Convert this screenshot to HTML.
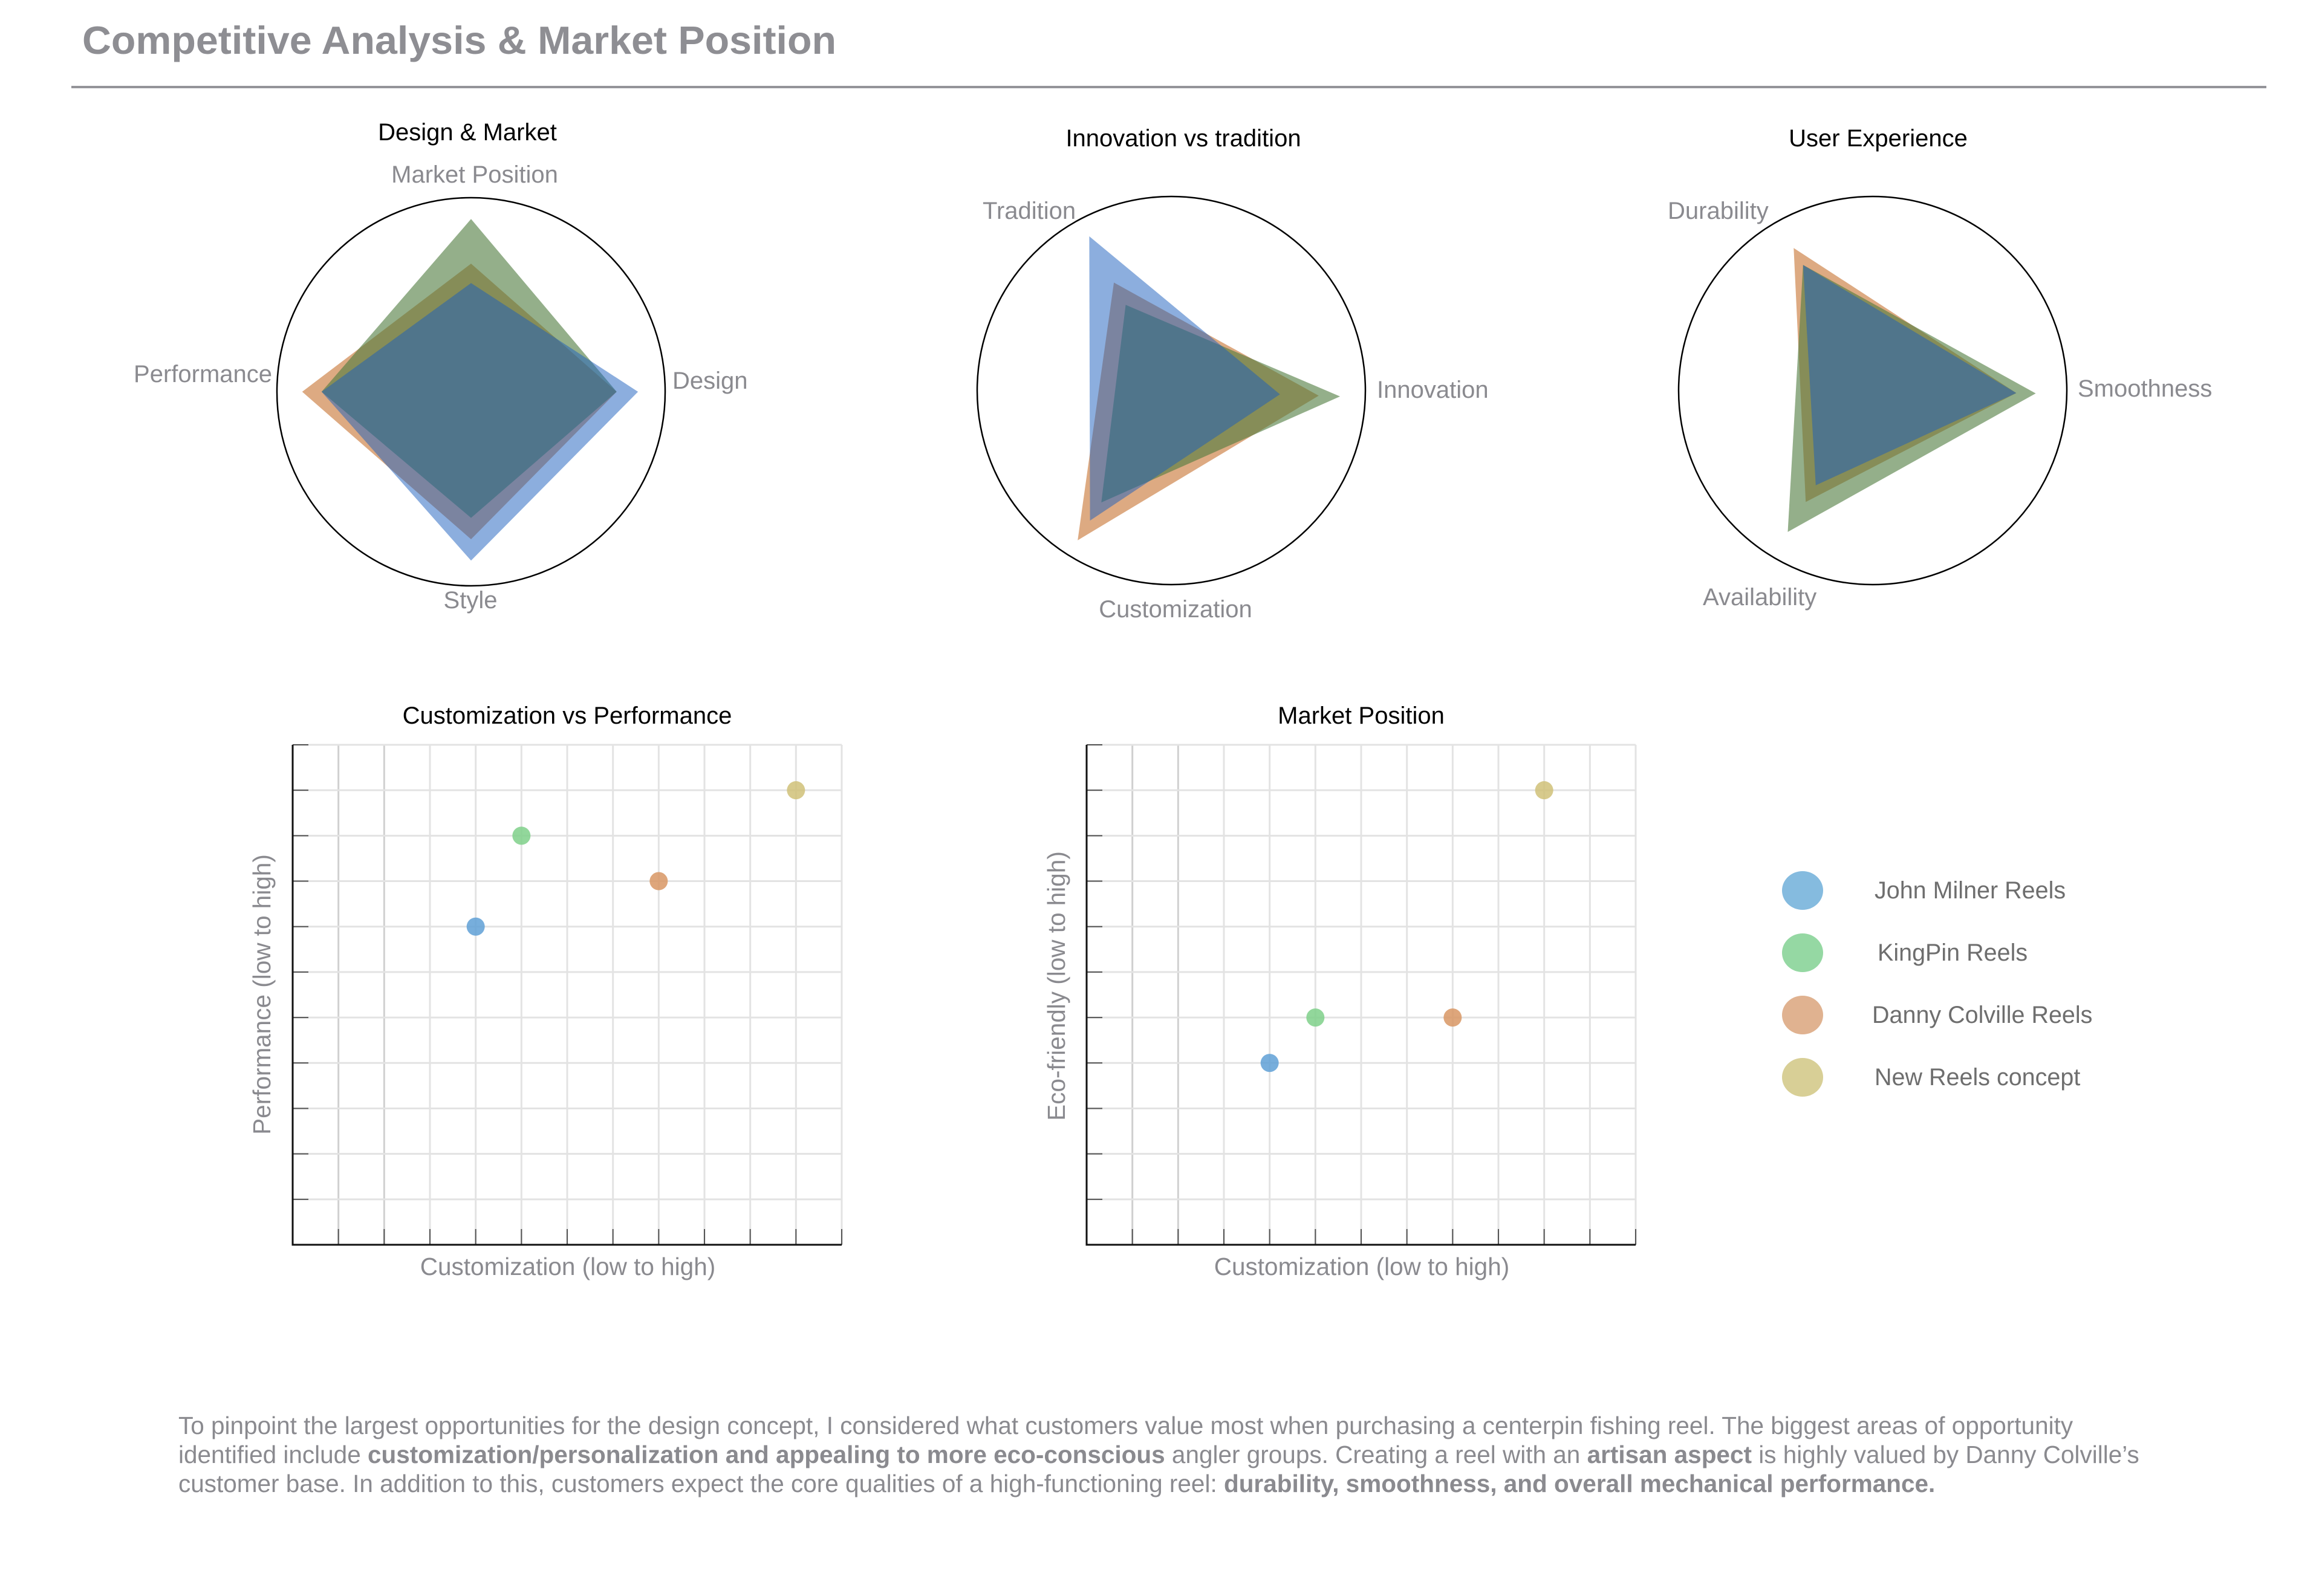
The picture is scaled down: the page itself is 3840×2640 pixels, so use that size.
<!DOCTYPE html>
<html><head><meta charset="utf-8"><style>
html,body{margin:0;padding:0;background:#fff;}
svg{display:block;font-family:"Liberation Sans",Arial,sans-serif;}
</style></head><body>
<svg id="root" width="3840" height="2640" viewBox="0 0 3840 2640" xmlns="http://www.w3.org/2000/svg">
<text x="136" y="89" font-size="65" font-weight="bold" fill="#8e8e93" textLength="1247" lengthAdjust="spacingAndGlyphs">Competitive Analysis &amp; Market Position</text>
<rect x="118" y="142" width="3630" height="4" fill="#949499"/>
<g id="radars"></g>
<g id="scatters"></g>
<g id="legend"></g>
<g font-size="40.5" fill="#8a8a8f">
<text x="295" y="2372">To pinpoint the largest opportunities for the design concept, I considered what customers value most when purchasing a centerpin fishing reel. The biggest areas of opportunity</text>
<text x="295" y="2420">identified include <tspan font-weight="bold">customization/personalization and appealing to more eco-conscious</tspan> angler groups. Creating a reel with an <tspan font-weight="bold">artisan aspect</tspan> is highly valued by Danny Colville’s</text>
<text x="295" y="2468">customer base. In addition to this, customers expect the core qualities of a high-functioning reel: <tspan font-weight="bold">durability, smoothness, and overall mechanical performance.</tspan></text>
</g>
</svg>
<script>
const NS="http://www.w3.org/2000/svg";
// ---- radar data (drawn in order: orange, green, blue) ----
const seriesNames=["Danny Colville Reels","KingPin Reels","John Milner Reels"];
const radar1Axes=["Design","Market Position","Performance","Style"];
const radar1Blue=[0.86,0.56,0.77,0.87];
const radar1Orange=[0.75,0.66,0.87,0.76];
const radar1Green=[0.75,0.89,0.77,0.65];
const radar2Axes=["Innovation","Tradition","Customization"];
const radar2Blue=[0.56,0.90,0.79];
const radar2Orange=[0.76,0.63,0.91];
const radar2Green=[0.87,0.50,0.68];
const radar3Axes=["Smoothness","Durability","Availability"];
const radar3Blue=[0.74,0.74,0.57];
const radar3Orange=[0.74,0.84,0.67];
const radar3Green=[0.84,0.74,0.85];
// ---- scatter data ----
const scatterNames=["John Milner Reels","KingPin Reels","Danny Colville Reels","New Reels concept"];
const scatter1X=[4,5,8,11];
const scatter1Y=[7,9,8,10];
const scatter2X=[4,5,8,10];
const scatter2Y=[4,5,5,10];

function el(tag,attrs,parent){const e=document.createElementNS(NS,tag);for(const k in attrs)e.setAttribute(k,attrs[k]);parent.appendChild(e);return e;}
const radarsG=document.getElementById('radars');
const fills=["rgba(199,113,46,0.6)","rgba(76,122,60,0.6)","rgba(25,93,189,0.5)"];

function radar(cfg){
  const g=el('g',{},radarsG);
  
  
  const t=el('text',{x:cfg.tx,y:cfg.ty,'font-size':40,fill:'#000','text-anchor':'middle'},g);
  t.textContent=cfg.title;
  
  
  const c=el('circle',{cx:cfg.cx,cy:cfg.cy,r:cfg.r,fill:'none',stroke:'#000','stroke-width':2.5},g);
  
  
  const n=cfg.axes.length;
  cfg.series.forEach((vals,si)=>{
    const pts=vals.map((v,i)=>{const a=(cfg.start+i*360/n)*Math.PI/180;return (cfg.cx+Math.cos(a)*v*cfg.r).toFixed(1)+','+(cfg.cy-Math.sin(a)*v*cfg.r).toFixed(1);}).join(' ');
    const p=el('polygon',{points:pts,fill:fills[si]},g);
    
    
  });
  cfg.labels.forEach((L,i)=>{
    const lt=el('text',{x:L[0],y:L[1],'font-size':40,fill:'#8a8a8f','text-anchor':L[2],'dominant-baseline':'central'},g);
    lt.textContent=cfg.axes[i];
    
    
  });
}
radar({name:'design-market-radar',title:'Design & Market',tx:773,ty:232,cx:779,cy:648,r:321,start:0,axes:radar1Axes,
  series:[radar1Orange,radar1Green,radar1Blue],
  labels:[[1112,630,'start'],[785,289,'middle'],[450,619,'end'],[778,993,'middle']]});
radar({name:'innovation-radar',title:'Innovation vs tradition',tx:1957,ty:242,cx:1937,cy:646,r:321,start:-2,axes:radar2Axes,
  series:[radar2Orange,radar2Green,radar2Blue],
  labels:[[2277,645,'start'],[1625,349,'start'],[1944,1008,'middle']]});
radar({name:'user-experience-radar',title:'User Experience',tx:3106,ty:242,cx:3097,cy:646,r:321,start:-1,axes:radar3Axes,
  series:[radar3Orange,radar3Green,radar3Blue],
  labels:[[3436,643,'start'],[2758,349,'start'],[2816,988,'start']]});

const scG=document.getElementById('scatters');
const dotColors=["rgba(95,160,214,0.85)","rgba(127,208,138,0.85)","rgba(216,150,100,0.85)","rgba(208,193,120,0.85)"];
function scatter(cfg){
  const g=el('g',{},scG);
  
  
  const L=cfg.x0,R=L+908,T=1232,B=2059;
  const sx=v=>L+v/12*(R-L), sy=v=>B-v/11*(B-T);
  for(let i=1;i<=12;i++){const x=sx(i);const ln=el('line',{x1:x,y1:T,x2:x,y2:B,stroke:i<3?'#d0d0d0':'#e3e3e3','stroke-width':3},g);
    
    const tk=el('line',{x1:x,y1:B-26,x2:x,y2:B,stroke:'#555','stroke-width':2},g);
    }
  for(let j=1;j<=11;j++){const y=sy(j);const ln=el('line',{x1:L,y1:y,x2:R,y2:y,stroke:'#e3e3e3','stroke-width':3},g);
    
    const tk=el('line',{x1:L,y1:y,x2:L+26,y2:y,stroke:'#555','stroke-width':2},g);
    }
  const ax=el('line',{x1:L,y1:T,x2:L,y2:B+1.5,stroke:'#111','stroke-width':3},g);
  
  const bx=el('line',{x1:L,y1:B,x2:R,y2:B,stroke:'#111','stroke-width':3},g);
  
  cfg.xs.forEach((v,i)=>{const d=el('ellipse',{cx:sx(v),cy:sy(cfg.ys[i]),rx:15,ry:15,fill:dotColors[i]},g);
    
    });
  const t=el('text',{x:L+454,y:1197,'font-size':40,fill:'#000','text-anchor':'middle'},g);t.textContent=cfg.title;
  
  const xl=el('text',{x:L+455,y:2109,'font-size':40.5,fill:'#8a8a8f','text-anchor':'middle'},g);xl.textContent='Customization (low to high)';
  
  const yl=el('text',{x:0,y:0,'font-size':40.5,fill:'#8a8a8f','text-anchor':'middle',transform:'translate('+(cfg.ylx)+','+cfg.yly+') rotate(-90)'},g);yl.textContent=cfg.ytitle;
  
}
scatter({name:'customization-performance-scatter',title:'Customization vs Performance',x0:484,xs:scatter1X,ys:scatter1Y,ytitle:'Performance (low to high)',ylx:447,yly:1645});
scatter({name:'market-position-scatter',title:'Market Position',x0:1797,xs:scatter2X,ys:scatter2Y,ytitle:'Eco-friendly (low to high)',ylx:1761,yly:1631});

const lg=document.getElementById('legend');
const legendColors=["#85bbdf","#95d8a3","#e0b290","#d8cf96"];
const legendY=[1473,1576,1679,1782];
scatterNames.forEach((n,i)=>{
  const c=el('ellipse',{cx:2981,cy:legendY[i],rx:34,ry:32,fill:legendColors[i]},lg);
  
  
  const t=el('text',{x:i==1?3105:(i==2?3096:3100),y:legendY[i],'font-size':39.5,fill:'#6e6e6e','dominant-baseline':'central'},lg);
  t.textContent=n;
  
  
});
</script>
</body></html>
